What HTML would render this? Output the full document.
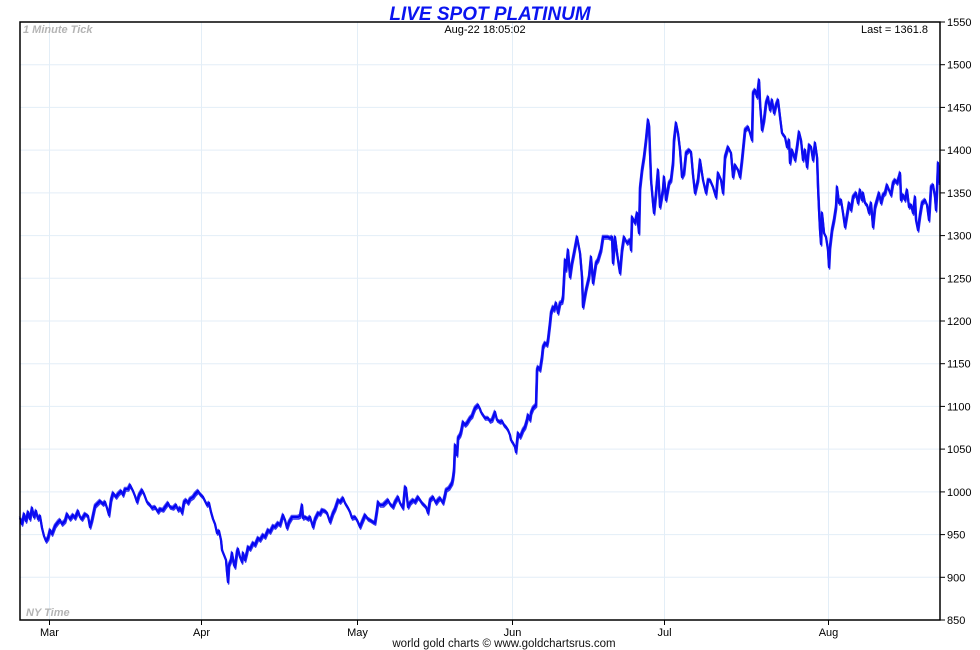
<!DOCTYPE html>
<html><head><meta charset="utf-8"><style>
html,body{margin:0;padding:0;background:#fff;}
body{width:980px;height:650px;overflow:hidden;}
svg{display:block;}
text{font-family:"Liberation Sans",Arial,sans-serif;}
</style></head><body>
<svg width="980" height="650" viewBox="0 0 980 650" xmlns="http://www.w3.org/2000/svg">
<defs>
<polyline id="ln" fill="none" stroke-linejoin="round" points="20,518 22,524 24,514 26,521 28,512 30,519 32,508 34,517 36,511 38,519 40,516 42,528 44,536 46,541 48,538 50,530 52,534 55,526 58,522 60,520 62,524 65,521 67,514 70,519 73,515 75,518 78,511 80,517 82,519 85,514 88,516 90,527 92,520 95,506 98,503 100,501 103,504 105,502 107,508 109,515 111,500 113,493 116,497 118,494 121,491 123,495 125,489 128,489 130,485 133,491 135,496 137,502 139,495 142,490 144,494 147,502 150,505 152,508 155,507 158,512 160,509 163,510 165,507 168,503 170,507 173,508 176,505 178,510 180,508 182,513 184,502 186,500 188,503 190,499 193,497 195,494 198,491 200,494 203,497 205,501 207,505 209,503 211,512 213,519 215,524 217,533 219,531 221,540 222,550 224,555 226,560 227,572 228,582 229,565 231,560 232,553 234,565 235,567 237,552 238,549 240,557 242,562 243,553 245,560 247,552 248,547 250,549 253,543 255,545 258,538 260,540 263,535 265,537 268,530 270,532 273,526 275,527 278,523 280,525 283,515 285,520 287,528 289,522 292,517 295,517 298,517 300,516 302,505 303,518 305,517 308,519 310,517 313,527 315,519 318,513 320,514 322,510 325,511 327,513 330,522 333,513 335,509 338,500 340,502 343,498 345,503 348,508 350,512 352,518 355,517 357,520 360,527 362,522 365,515 368,519 370,520 373,522 375,523 377,510 378,502 380,505 383,505 385,503 388,500 390,504 393,507 395,502 398,497 400,503 403,508 405,487 406,488 408,507 410,503 413,500 415,502 418,497 420,500 422,503 424,505 426,507 428,513 430,500 433,497 436,503 438,500 440,498 443,503 445,495 446,490 449,488 452,483 453,478 454,470 455,445 456,452 457,455 458,438 460,435 461,432 463,422 465,425 467,423 470,418 472,416 473,413 475,408 478,405 480,409 481,412 483,415 485,418 488,418 490,421 492,420 495,412 497,420 500,422 502,421 504,425 506,427 508,430 510,435 511,440 513,443 515,447 516,452 517,442 518,433 520,437 521,435 523,430 525,427 527,420 528,415 530,420 531,413 533,408 535,406 536,405 537,370 538,367 540,370 542,357 543,347 545,343 547,345 548,340 550,323 551,313 553,307 554,310 556,303 558,313 560,303 562,302 563,297 565,260 566,270 568,250 570,277 572,263 574,253 577,237 580,253 582,277 583,307 586,290 589,277 591,257 593,283 596,263 598,260 601,250 603,237 606,237 608,237 610,238 612,237 613,263 615,237 617,253 619,267 620,273 622,250 624,237 627,243 630,240 631,250 632,217 635,223 637,213 639,233 640,188 642,170 644,157 646,140 648,120 649,125 650,153 651,180 653,203 654,213 656,193 658,170 660,207 663,190 664,177 666,200 669,183 671,180 673,163 674,140 676,123 678,133 680,150 682,177 684,173 686,153 689,150 691,152 693,175 695,193 698,180 700,160 703,180 706,193 708,180 710,180 713,187 716,197 718,173 721,180 723,193 725,157 728,147 731,153 733,177 735,165 738,170 740,177 742,160 745,130 748,127 750,133 752,140 753,93 755,90 757,97 759,80 760,103 762,130 764,120 766,103 768,97 770,110 772,100 774,113 776,105 778,100 780,117 782,133 785,137 787,147 789,140 790,163 792,150 793,153 795,160 797,147 799,132 801,140 803,160 805,150 807,167 809,145 811,147 813,160 815,143 817,157 818,187 819,210 820,230 821,244 822,213 824,233 826,237 828,250 829,267 830,247 832,230 834,220 836,207 837,187 839,203 841,200 843,213 845,227 847,215 849,203 851,210 853,197 856,193 858,203 860,190 862,200 863,193 865,203 867,205 869,213 871,203 873,227 875,207 877,200 879,193 881,203 883,195 885,193 887,185 889,190 891,195 893,183 895,180 897,183 899,177 900,173 901,200 903,195 905,200 907,190 909,207 911,205 913,213 915,197 916,220 918,230 920,215 922,203 925,200 927,205 929,220 931,187 933,185 935,197 936,210 937,190 938,163 939,183"/>
</defs>
<rect x="0" y="0" width="980" height="650" fill="#fff"/>
<g stroke="#e3eef7" stroke-width="1">
<line x1="20" y1="64.7" x2="940" y2="64.7"/>
<line x1="20" y1="107.4" x2="940" y2="107.4"/>
<line x1="20" y1="150.1" x2="940" y2="150.1"/>
<line x1="20" y1="192.9" x2="940" y2="192.9"/>
<line x1="20" y1="235.6" x2="940" y2="235.6"/>
<line x1="20" y1="278.3" x2="940" y2="278.3"/>
<line x1="20" y1="321" x2="940" y2="321"/>
<line x1="20" y1="363.7" x2="940" y2="363.7"/>
<line x1="20" y1="406.4" x2="940" y2="406.4"/>
<line x1="20" y1="449.1" x2="940" y2="449.1"/>
<line x1="20" y1="491.9" x2="940" y2="491.9"/>
<line x1="20" y1="534.6" x2="940" y2="534.6"/>
<line x1="20" y1="577.3" x2="940" y2="577.3"/>
<line x1="49.5" y1="22" x2="49.5" y2="620"/>
<line x1="201.5" y1="22" x2="201.5" y2="620"/>
<line x1="357.5" y1="22" x2="357.5" y2="620"/>
<line x1="512.5" y1="22" x2="512.5" y2="620"/>
<line x1="664.5" y1="22" x2="664.5" y2="620"/>
<line x1="828.5" y1="22" x2="828.5" y2="620"/>
</g>
<text x="490" y="20" text-anchor="middle" font-size="19" font-weight="bold" font-style="italic" fill="#0a14f0">LIVE SPOT PLATINUM</text>
<text x="23" y="33" font-size="11" font-weight="bold" font-style="italic" fill="#b4b4b4">1 Minute Tick</text>
<text x="485" y="33" text-anchor="middle" font-size="11" fill="#000">Aug-22  18:05:02</text>
<text x="928" y="33" text-anchor="end" font-size="11" fill="#000">Last = 1361.8</text>
<text x="26" y="616" font-size="11" font-weight="bold" font-style="italic" fill="#b4b4b4">NY Time</text>
<use href="#ln" stroke="#0000f5" stroke-width="2.3"/>
<use href="#ln" stroke="#1010f0" stroke-width="1.6" transform="translate(0.6,2)" opacity="0.85"/>
<use href="#ln" stroke="#1010f0" stroke-width="1.4" transform="translate(-0.5,-1.6)" opacity="0.7"/>
<g stroke="#000" stroke-width="1.5" fill="none">
<rect x="20" y="22" width="920" height="598"/>
</g>
<g stroke="#000" stroke-width="1">
<line x1="940" y1="22" x2="945" y2="22"/>
<line x1="940" y1="64.7" x2="945" y2="64.7"/>
<line x1="940" y1="107.4" x2="945" y2="107.4"/>
<line x1="940" y1="150.1" x2="945" y2="150.1"/>
<line x1="940" y1="192.9" x2="945" y2="192.9"/>
<line x1="940" y1="235.6" x2="945" y2="235.6"/>
<line x1="940" y1="278.3" x2="945" y2="278.3"/>
<line x1="940" y1="321" x2="945" y2="321"/>
<line x1="940" y1="363.7" x2="945" y2="363.7"/>
<line x1="940" y1="406.4" x2="945" y2="406.4"/>
<line x1="940" y1="449.1" x2="945" y2="449.1"/>
<line x1="940" y1="491.9" x2="945" y2="491.9"/>
<line x1="940" y1="534.6" x2="945" y2="534.6"/>
<line x1="940" y1="577.3" x2="945" y2="577.3"/>
<line x1="940" y1="620" x2="945" y2="620"/>
<line x1="49.5" y1="620" x2="49.5" y2="625"/>
<line x1="201.5" y1="620" x2="201.5" y2="625"/>
<line x1="357.5" y1="620" x2="357.5" y2="625"/>
<line x1="512.5" y1="620" x2="512.5" y2="625"/>
<line x1="664.5" y1="620" x2="664.5" y2="625"/>
<line x1="828.5" y1="620" x2="828.5" y2="625"/>
</g>
<g font-size="11" fill="#000">
<text x="947" y="26">1550</text>
<text x="947" y="68.7">1500</text>
<text x="947" y="111.4">1450</text>
<text x="947" y="154.1">1400</text>
<text x="947" y="196.9">1350</text>
<text x="947" y="239.6">1300</text>
<text x="947" y="282.3">1250</text>
<text x="947" y="325">1200</text>
<text x="947" y="367.7">1150</text>
<text x="947" y="410.4">1100</text>
<text x="947" y="453.1">1050</text>
<text x="947" y="495.9">1000</text>
<text x="947" y="538.6">950</text>
<text x="947" y="581.3">900</text>
<text x="947" y="624">850</text>
</g>
<g font-size="11" fill="#000" text-anchor="middle">
<text x="49.5" y="636">Mar</text>
<text x="201.5" y="636">Apr</text>
<text x="357.5" y="636">May</text>
<text x="512.5" y="636">Jun</text>
<text x="664.5" y="636">Jul</text>
<text x="828.5" y="636">Aug</text>
</g>
<text x="504" y="647" text-anchor="middle" font-size="11.5" fill="#111">world gold charts © www.goldchartsrus.com</text>
</svg>
</body></html>
